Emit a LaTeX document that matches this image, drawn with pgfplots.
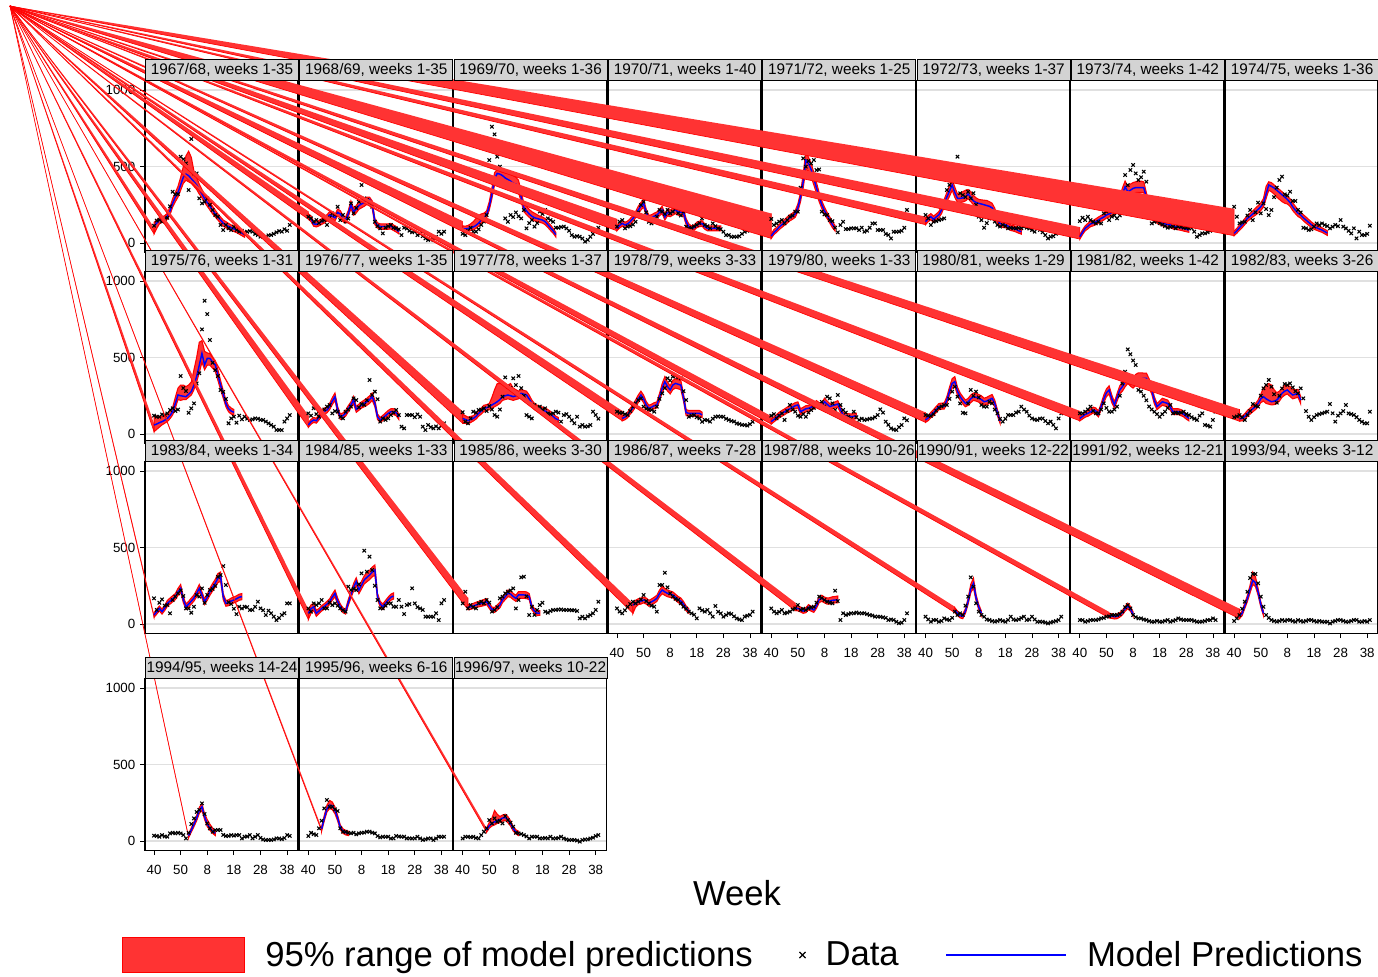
\documentclass[border=0pt]{standalone}
\usepackage{fontspec}
\setmainfont{Liberation Sans}
\usepackage{pgfplots}
\pgfplotsset{compat=1.18}
\definecolor{bandred}{RGB}{255,51,51}
\definecolor{titlegray}{RGB}{211,211,211}
\definecolor{gridgray}{RGB}{224,224,224}
\pgfplotsset{
 panel/.style={
  scale only axis, width=114.75pt, height=128.55pt, anchor=north west,
  xmin=-3.4, xmax=54.1, ymin=-60, ymax=1060,
  ytick={0,500,1000}, yticklabels={}, ymajorgrids,
  major grid style={draw=gridgray, line width=0.8pt},
  xtick=\empty,
  axis line style={line width=1pt},
  tick align=outside, major tick length=3.75pt,
  tick style={black, line width=0.6pt},
  ytick style={draw=none},
  xtick pos=left, ytick pos=left,
  clip=false,
  tick label style={font=\fontsize{10}{12}\selectfont},
  xticklabel style={yshift=-4pt},
  /pgf/number format/assume math mode=true,
 },
 ylab/.style={yticklabels={0,500,1000}, ytick style={draw=black}},
 xlab/.style={xtick={0,10,20,30,40,50}, xticklabels={40,50,8,18,28,38}},
}
\tikzset{titlebox/.style={anchor=south west, fill=titlegray, draw=black, line width=0.8pt, minimum width=114.75pt, minimum height=15.5pt, inner sep=0pt, font=\fontsize{11.5}{13}\selectfont}}
\makeatletter
\newcommand\alltitles{}
\newcommand\addtitle[3]{\g@addto@macro\alltitles{\node[titlebox] at ({#1*0.75pt},{-#2*0.75pt}) {#3};}}
\makeatother
% #1 left px, #2 top px, #3 title, #4 options, #5 data, #6 model rows (week m lo hi), #7 artefact wedge
\newcommand\Panel[7]{%
 \addtitle{#1}{#2}{#3}%
 \begin{axis}[panel, #4, at={({#1*0.75pt},{-#2*0.75pt})}]
 \addplot[fill=bandred, draw=red, line width=0.5pt] coordinates {#7};
 \addplot[draw=none, stack plots=y] table[row sep=\\, header=false, x index=0, y index=2] {#6};
 \addplot[fill=bandred, draw=red, line width=0.8pt, stack plots=y] table[row sep=\\, header=false, x index=0, y expr=\thisrowno{3}-\thisrowno{2}] {#6} \closedcycle;
 \addplot[only marks, mark=x, mark size=1.8pt, black, line width=0.8pt] table[row sep=\\, header=false, x expr=\coordindex, y index=0] {#5};
 \addplot[blue, line width=1.1pt] table[row sep=\\, header=false, x index=0, y index=1] {#6};
 \end{axis}}
\begin{document}
\begin{tikzpicture}
\useasboundingbox (0pt,0pt) rectangle (1033.5pt,-732.75pt);
% ---------------- row 1
\Panel{145}{80.8}{1967/68, weeks 1-35}{ylab}
{113\\146\\152\\140\\157\\165\\240\\335\\318\\320\\564\\547\\520\\346\\680\\455\\455\\292\\259\\270\\292\\250\\216\\183\\172\\118\\85\\118\\96\\85\\107\\85\\74\\80\\70\\74\\78\\74\\60\\52\\41\\45\\41\\50\\52\\60\\70\\78\\74\\90\\80\\118\\}
{0 110 60 135\\1 130 95 150\\2 150 125 165\\3 152 135 172\\4 158 140 178\\5 175 155 195\\6 210 185 235\\7 260 235 290\\8 300 270 330\\9 330 300 370\\10 380 345 430\\11 430 390 500\\12 450 410 570\\13 440 400 600\\14 420 390 560\\15 400 370 470\\16 380 350 430\\17 350 320 385\\18 320 295 350\\19 290 265 320\\20 265 240 290\\21 240 215 265\\22 215 190 240\\23 190 170 215\\24 170 150 190\\25 150 130 170\\26 130 110 150\\27 118 100 140\\28 108 90 128\\29 100 82 118\\30 92 75 110\\31 85 68 100\\32 75 58 90\\33 65 48 80\\34 55 38 70\\}
{(-54.13,1548.8) (0,60) (0,100)}
\Panel{299.3}{80.8}{1968/69, weeks 1-35}{}
{172\\161\\140\\150\\130\\145\\150\\118\\165\\194\\185\\237\\150\\183\\140\\160\\259\\194\\230\\270\\379\\292\\281\\260\\237\\139\\110\\96\\63\\100\\110\\118\\100\\96\\90\\52\\100\\95\\80\\70\\75\\52\\60\\45\\30\\20\\25\\20\\40\\74\\60\\74\\}
{0 172 155 190\\1 160 140 178\\2 125 110 140\\3 122 105 138\\4 130 112 148\\5 140 122 158\\6 150 130 170\\7 165 145 185\\8 185 165 205\\9 175 155 195\\10 165 145 185\\11 200 178 222\\12 190 170 212\\13 160 140 180\\14 150 130 170\\15 190 170 212\\16 250 225 275\\17 205 182 228\\18 220 196 245\\19 245 220 270\\20 255 230 282\\21 265 240 292\\22 280 252 300\\23 285 255 300\\24 250 225 275\\25 140 120 160\\26 115 98 132\\27 108 90 125\\28 108 90 125\\29 108 90 125\\30 108 90 125\\31 110 92 128\\32 100 82 118\\33 90 72 108\\34 75 60 90\\}
{(-112.12,1548.8) (0,155) (0,207)}
\Panel{453.6}{80.8}{1969/70, weeks 1-36}{}
{60\\52\\80\\100\\74\\74\\90\\118\\140\\183\\542\\760\\710\\564\\499\\396\\161\\139\\183\\170\\200\\175\\161\\216\\96\\130\\150\\107\\130\\205\\190\\216\\161\\150\\139\\100\\100\\105\\107\\96\\80\\52\\41\\45\\41\\30\\9\\20\\41\\60\\80\\100\\}
{0 95 78 112\\1 92 75 110\\2 95 78 115\\3 100 82 125\\4 105 86 140\\5 115 95 160\\6 130 110 180\\7 150 128 190\\8 165 145 195\\9 185 165 210\\10 240 215 270\\11 320 290 360\\12 420 380 460\\13 455 415 480\\14 450 410 470\\15 440 400 462\\16 425 385 460\\17 415 375 455\\18 405 365 450\\19 390 352 440\\20 385 345 430\\21 370 330 410\\22 300 270 335\\23 230 205 260\\24 210 185 240\\25 190 168 220\\26 175 155 205\\27 165 145 195\\28 160 140 185\\29 155 135 175\\30 150 130 170\\31 140 120 160\\32 120 102 138\\33 100 82 118\\34 80 64 96\\35 55 40 70\\}
{(-170.11,1548.8) (0,78) (0,143)}
\Panel{607.9}{80.8}{1970/71, weeks 1-40}{}
{107\\139\\150\\96\\107\\110\\120\\139\\200\\248\\270\\200\\139\\128\\150\\172\\216\\205\\190\\216\\194\\205\\227\\194\\180\\205\\107\\96\\100\\110\\118\\130\\161\\118\\110\\96\\128\\110\\96\\90\\74\\52\\52\\41\\41\\41\\45\\60\\74\\80\\100\\110\\}
{0 96 80 112\\1 115 98 132\\2 128 110 146\\3 118 100 136\\4 125 107 143\\5 140 120 160\\6 160 140 180\\7 185 165 205\\8 215 192 240\\9 240 215 265\\10 259 235 285\\11 200 178 222\\12 161 142 180\\13 165 145 185\\14 175 155 195\\15 183 163 203\\16 200 178 222\\17 216 192 240\\18 170 150 190\\19 200 178 222\\20 194 172 216\\21 205 182 228\\22 216 192 240\\23 205 182 228\\24 200 178 222\\25 200 178 222\\26 140 120 160\\27 107 90 125\\28 96 80 112\\29 100 83 117\\30 118 100 136\\31 125 107 143\\32 128 110 146\\33 107 90 125\\34 96 80 112\\35 96 80 112\\36 96 80 112\\37 96 80 112\\38 96 80 112\\39 96 80 112\\}
{(-228.10,1548.8) (0,80) (0,158)}
\Panel{762.2}{80.8}{1971/72, weeks 1-25}{}
{157\\118\\128\\140\\150\\128\\150\\172\\180\\205\\205\\362\\553\\499\\536\\520\\542\\477\\481\\205\\187\\183\\150\\143\\100\\70\\118\\139\\91\\91\\96\\96\\96\\85\\100\\74\\80\\100\\128\\128\\85\\85\\85\\60\\52\\30\\74\\74\\74\\80\\100\\216\\}
{0 45 30 60\\1 70 55 88\\2 85 70 102\\3 105 88 122\\4 120 102 138\\5 135 116 154\\6 150 130 170\\7 165 145 185\\8 175 155 195\\9 190 168 212\\10 230 205 255\\11 300 270 330\\12 400 360 450\\13 540 480 600\\14 520 470 560\\15 480 430 520\\16 420 380 460\\17 360 325 395\\18 300 270 330\\19 250 225 275\\20 210 185 235\\21 180 160 200\\22 150 130 170\\23 120 100 140\\24 96 78 114\\}
{(-286.09,1548.8) (0,30) (0,193)}
\Panel{916.5}{80.8}{1972/73, weeks 1-37}{}
{183\\161\\118\\139\\143\\150\\155\\161\\346\\380\\401\\420\\564\\325\\314\\300\\335\\292\\325\\250\\172\\150\\100\\130\\160\\183\\140\\118\\107\\118\\110\\96\\100\\96\\96\\100\\96\\107\\100\\95\\85\\74\\107\\85\\70\\52\\30\\41\\45\\60\\70\\90\\}
{0 139 120 158\\1 160 140 180\\2 172 152 192\\3 155 135 175\\4 170 150 190\\5 185 165 205\\6 216 192 240\\7 260 235 285\\8 300 270 330\\9 340 305 375\\10 379 345 415\\11 330 298 365\\12 292 265 320\\13 292 265 325\\14 295 268 335\\15 303 275 345\\16 320 290 350\\17 300 270 335\\18 275 250 310\\19 265 240 295\\20 259 235 285\\21 255 230 282\\22 250 225 280\\23 245 220 278\\24 240 215 270\\25 230 205 260\\26 205 182 228\\27 150 130 170\\28 128 110 146\\29 120 102 138\\30 118 100 136\\31 110 92 128\\32 100 82 118\\33 96 78 114\\34 90 72 108\\35 80 64 96\\36 74 58 90\\}
{(-344.08,1548.8) (0,120) (0,172)}
\Panel{1070.8}{80.8}{1973/74, weeks 1-42}{}
{143\\165\\150\\172\\150\\139\\128\\139\\128\\194\\205\\150\\172\\180\\161\\180\\194\\444\\379\\477\\510\\455\\412\\430\\466\\401\\250\\128\\139\\143\\130\\120\\110\\100\\105\\107\\96\\107\\105\\100\\100\\96\\96\\74\\41\\52\\63\\63\\70\\80\\90\\100\\}
{0 41 26 56\\1 70 55 86\\2 96 80 112\\3 110 92 128\\4 125 107 143\\5 130 112 148\\6 139 120 158\\7 150 130 170\\8 161 142 180\\9 170 150 190\\10 183 163 203\\11 190 170 210\\12 200 178 222\\13 210 187 233\\14 240 215 265\\15 270 245 300\\16 320 290 360\\17 368 335 405\\18 335 305 370\\19 345 315 385\\20 357 325 395\\21 362 330 400\\22 362 330 405\\23 362 330 405\\24 362 330 400\\25 300 270 330\\26 237 212 262\\27 200 178 222\\28 170 150 190\\29 150 130 170\\30 140 120 160\\31 130 112 148\\32 125 107 143\\33 120 102 138\\34 118 100 136\\35 110 92 128\\36 107 90 125\\37 103 86 120\\38 100 83 117\\39 95 78 112\\40 90 74 106\\41 85 70 100\\}
{(-402.06,1548.8) (0,26) (0,104)}
\Panel{1225.1}{80.8}{1974/75, weeks 1-36}{}
{237\\172\\128\\135\\139\\180\\216\\150\\200\\264\\194\\259\\222\\183\\216\\300\\362\\412\\434\\318\\310\\335\\275\\275\\216\\200\\100\\96\\85\\90\\107\\128\\118\\128\\118\\110\\96\\107\\118\\110\\150\\107\\96\\80\\63\\96\\30\\74\\52\\52\\60\\113\\}
{0 63 48 78\\1 80 64 96\\2 100 83 117\\3 118 100 136\\4 140 120 160\\5 161 142 180\\6 175 155 195\\7 190 170 210\\8 205 182 228\\9 220 196 244\\10 237 212 262\\11 260 235 290\\12 320 290 370\\13 379 345 400\\14 370 335 395\\15 360 320 380\\16 345 300 365\\17 330 285 350\\18 315 270 335\\19 300 260 320\\20 285 255 305\\21 265 240 290\\22 237 212 262\\23 215 192 240\\24 195 173 218\\25 183 163 203\\26 165 145 185\\27 150 130 170\\28 135 116 154\\29 120 102 138\\30 107 90 125\\31 100 83 117\\32 92 76 108\\33 85 70 100\\34 75 60 90\\35 65 50 80\\}
{(-460.05,1548.8) (0,48) (0,224)}
% ---------------- row 2
\Panel{145}{271.8}{1975/76, weeks 1-31}{ylab}
{120\\113\\113\\128\\124\\135\\157\\168\\150\\160\\379\\300\\281\\139\\168\\200\\330\\397\\684\\871\\784\\614\\466\\418\\379\\288\\275\\229\\70\\102\\113\\74\\120\\96\\113\\100\\92\\96\\102\\100\\92\\92\\81\\70\\59\\48\\26\\26\\26\\81\\102\\124\\}
{0 59 15 120\\1 65 30 118\\2 74 45 115\\3 81 60 112\\4 90 70 118\\5 102 82 130\\6 120 100 150\\7 146 125 175\\8 200 170 240\\9 255 225 300\\10 250 220 320\\11 247 225 320\\12 244 225 310\\13 260 240 320\\14 277 255 340\\15 320 290 420\\16 375 340 500\\17 450 400 600\\18 527 470 610\\19 451 420 540\\20 494 450 530\\21 494 450 525\\22 470 430 500\\23 451 410 480\\24 385 350 420\\25 320 290 350\\26 260 235 285\\27 200 178 222\\28 165 145 185\\29 150 130 170\\30 142 122 160\\}
{(-54.13,2796.8) (0,15) (0,67)}
\Panel{299.3}{271.8}{1976/77, weeks 1-35}{}
{135\\120\\168\\130\\113\\146\\160\\179\\190\\135\\150\\146\\113\\102\\146\\160\\179\\233\\222\\174\\196\\190\\220\\353\\255\\277\\227\\81\\102\\92\\102\\124\\140\\157\\124\\48\\37\\124\\124\\124\\110\\128\\113\\48\\26\\59\\45\\37\\50\\37\\55\\70\\}
{0 59 44 74\\1 80 64 96\\2 92 76 108\\3 87 71 103\\4 110 92 128\\5 135 116 154\\6 150 130 170\\7 157 138 176\\8 180 160 200\\9 215 192 238\\10 244 220 268\\11 160 140 180\\12 113 95 131\\13 120 102 138\\14 135 116 154\\15 165 145 185\\16 190 170 210\\17 222 198 246\\18 161 142 180\\19 175 155 195\\20 190 170 210\\21 200 178 222\\22 211 188 234\\23 225 200 250\\24 244 220 268\\25 200 178 222\\26 113 95 131\\27 92 76 108\\28 105 88 122\\29 120 102 138\\30 135 116 154\\31 146 127 165\\32 146 127 165\\33 140 120 160\\34 113 95 131\\}
{(-112.12,2796.8) (0,44) (0,122)}
\Panel{453.6}{271.8}{1977/78, weeks 1-37}{}
{142\\81\\70\\102\\146\\140\\157\\160\\168\\150\\183\\160\\124\\113\\160\\244\\370\\309\\300\\364\\320\\379\\300\\250\\124\\113\\102\\190\\170\\179\\160\\168\\135\\130\\135\\146\\140\\81\\124\\130\\113\\90\\70\\113\\48\\59\\48\\50\\59\\146\\124\\100\\}
{0 102 70 130\\1 95 70 120\\2 87 65 110\\3 95 75 115\\4 102 85 120\\5 115 97 133\\6 135 116 154\\7 150 130 170\\8 168 148 188\\9 172 152 192\\10 179 159 199\\11 190 168 240\\12 200 178 290\\13 211 188 330\\14 225 200 330\\15 244 220 330\\16 250 225 325\\17 255 230 320\\18 250 225 330\\19 244 220 300\\20 250 225 290\\21 255 230 280\\22 266 240 290\\23 260 235 285\\24 255 230 280\\25 230 205 255\\26 200 178 222\\27 180 160 200\\28 168 148 188\\29 162 142 182\\30 157 138 176\\31 150 130 170\\32 140 120 160\\33 130 112 148\\34 115 97 133\\35 100 83 117\\36 92 76 108\\}
{(-170.11,2796.8) (0,70) (0,148)}
\Panel{607.9}{271.8}{1978/79, weeks 3-33}{}
{146\\139\\139\\130\\124\\150\\179\\200\\222\\233\\179\\165\\160\\157\\146\\179\\230\\266\\300\\364\\350\\375\\379\\370\\364\\280\\222\\113\\120\\124\\110\\102\\80\\92\\90\\81\\100\\113\\115\\113\\113\\100\\92\\85\\81\\70\\65\\60\\59\\55\\65\\80\\}
{2 102 86 118\\3 110 93 127\\4 124 106 142\\5 150 130 170\\6 170 150 190\\7 200 178 222\\8 230 205 255\\9 255 230 280\\10 230 205 255\\11 190 168 212\\12 168 148 188\\13 175 155 195\\14 185 165 205\\15 190 170 210\\16 240 215 265\\17 300 270 330\\18 342 310 375\\19 310 280 340\\20 288 262 315\\21 320 290 350\\22 331 300 362\\23 325 295 355\\24 320 290 350\\25 240 215 265\\26 140 120 160\\27 135 116 154\\28 135 116 154\\29 135 116 154\\30 135 116 154\\31 135 116 154\\32 125 107 143\\}
{(-228.10,2796.8) (2,86) (2,151)}
\Panel{762.2}{271.8}{1979/80, weeks 1-33}{}
{120\\130\\102\\120\\135\\92\\150\\190\\160\\146\\120\\113\\130\\113\\140\\157\\170\\180\\196\\210\\180\\244\\233\\200\\157\\255\\190\\157\\140\\113\\100\\146\\110\\92\\100\\92\\95\\100\\102\\110\\124\\161\\140\\81\\60\\37\\30\\26\\45\\59\\102\\90\\}
{0 81 65 97\\1 95 79 111\\2 110 93 127\\3 124 106 142\\4 135 116 154\\5 145 126 164\\6 157 138 176\\7 165 145 185\\8 175 155 195\\9 185 165 205\\10 190 170 210\\11 146 127 165\\12 155 135 175\\13 165 145 185\\14 168 148 188\\15 175 155 195\\16 185 165 205\\17 196 175 218\\18 185 165 205\\19 179 159 199\\20 211 188 234\\21 195 174 216\\22 179 159 199\\23 185 165 205\\24 190 170 210\\25 196 175 218\\26 160 140 180\\27 124 106 142\\28 118 100 136\\29 115 97 133\\30 113 95 131\\31 115 97 133\\32 118 100 136\\}
{(-286.09,2796.8) (0,65) (0,117)}
\Panel{916.5}{271.8}{1980/81, weeks 1-29}{}
{124\\120\\118\\130\\153\\170\\180\\190\\190\\230\\277\\309\\244\\200\\139\\135\\200\\288\\250\\277\\240\\190\\179\\179\\211\\200\\160\\135\\100\\81\\100\\124\\124\\124\\140\\146\\179\\160\\146\\120\\102\\95\\92\\100\\102\\85\\70\\81\\60\\37\\102\\135\\}
{0 92 76 108\\1 105 88 122\\2 124 106 142\\3 140 120 160\\4 160 140 180\\5 179 159 199\\6 182 162 202\\7 183 163 203\\8 220 196 244\\9 280 254 306\\10 330 300 362\\11 342 310 375\\12 280 254 306\\13 244 220 268\\14 220 196 244\\15 200 178 222\\16 210 187 233\\17 230 205 255\\18 244 220 268\\19 240 215 265\\20 233 208 258\\21 225 200 250\\22 211 188 234\\23 215 192 240\\24 225 200 250\\25 233 208 258\\26 200 178 222\\27 140 120 160\\28 85 70 100\\}
{(-344.08,2796.8) (0,76) (0,141)}
\Panel{1070.8}{271.8}{1981/82, weeks 1-42}{}
{135\\135\\146\\160\\179\\150\\135\\135\\160\\200\\170\\146\\146\\160\\179\\250\\330\\407\\553\\521\\480\\451\\288\\277\\250\\220\\180\\160\\146\\130\\113\\130\\146\\170\\190\\135\\140\\135\\140\\146\\130\\124\\110\\100\\92\\120\\135\\59\\55\\48\\92\\146\\}
{0 102 86 118\\1 115 98 132\\2 128 110 146\\3 135 116 154\\4 145 126 164\\5 157 138 176\\6 150 130 170\\7 131 112 150\\8 180 160 200\\9 230 205 255\\10 270 245 295\\11 288 262 315\\12 230 205 255\\13 190 170 210\\14 240 215 265\\15 288 262 315\\16 310 280 340\\17 340 308 372\\18 364 330 398\\19 345 313 378\\20 331 300 362\\21 350 318 390\\22 364 330 400\\23 364 330 400\\24 364 330 398\\25 364 330 398\\26 330 300 362\\27 288 262 315\\28 220 196 244\\29 179 159 199\\30 195 174 216\\31 211 188 234\\32 205 182 228\\33 200 178 222\\34 175 155 195\\35 146 127 165\\36 146 127 165\\37 146 127 165\\38 140 120 160\\39 130 112 148\\40 115 97 133\\41 102 86 118\\}
{(-402.06,2796.8) (0,86) (0,151)}
\Panel{1225.1}{271.8}{1982/83, weeks 3-26}{}
{110\\115\\124\\110\\92\\124\\150\\196\\185\\179\\250\\298\\320\\353\\309\\260\\205\\250\\298\\327\\320\\331\\305\\280\\266\\298\\233\\150\\113\\92\\110\\124\\130\\135\\140\\146\\196\\135\\81\\120\\135\\150\\190\\135\\130\\124\\110\\92\\80\\70\\70\\146\\}
{2 100 84 116\\3 102 86 118\\4 115 97 133\\5 135 116 154\\6 150 130 170\\7 165 145 185\\8 179 159 199\\9 200 178 222\\10 230 205 260\\11 244 215 300\\12 230 200 320\\13 220 195 330\\14 211 190 320\\15 215 192 290\\16 222 198 270\\17 240 215 280\\18 266 240 300\\19 280 254 320\\20 288 262 320\\21 270 245 310\\22 255 230 290\\23 260 235 290\\24 266 240 292\\25 222 198 246\\}
{(-460.05,2796.8) (2,84) (2,162)}
% ---------------- row 3
\Panel{145}{461.8}{1983/84, weeks 1-34}{ylab}
{168\\92\\139\\161\\120\\124\\70\\157\\179\\200\\220\\183\\102\\102\\74\\113\\190\\179\\233\\139\\190\\222\\229\\250\\309\\320\\379\\255\\142\\131\\100\\65\\113\\102\\113\\110\\92\\92\\113\\146\\102\\90\\59\\87\\70\\48\\26\\40\\59\\70\\135\\135\\}
{0 59 44 74\\1 80 64 96\\2 102 86 118\\3 81 65 97\\4 105 88 122\\5 135 116 154\\6 150 130 170\\7 165 145 185\\8 179 159 199\\9 210 187 233\\10 233 208 258\\11 160 140 180\\12 113 95 131\\13 130 112 148\\14 150 130 170\\15 170 150 190\\16 200 178 222\\17 233 208 258\\18 190 170 210\\19 146 127 165\\20 175 155 195\\21 211 188 234\\22 240 215 265\\23 266 240 292\\24 300 270 330\\25 309 280 340\\26 179 159 199\\27 135 116 154\\28 139 120 158\\29 150 130 170\\30 157 138 176\\31 165 145 185\\32 175 155 195\\33 179 159 199\\}
{(-54.13,4038.3) (0,44) (0,64)}
\Panel{299.3}{461.8}{1984/85, weeks 1-33}{}
{102\\81\\135\\124\\135\\157\\102\\102\\140\\124\\135\\120\\102\\90\\81\\244\\222\\230\\222\\260\\331\\479\\342\\440\\353\\250\\157\\102\\102\\120\\135\\135\\113\\113\\157\\113\\65\\124\\130\\233\\135\\110\\102\\92\\48\\48\\48\\48\\70\\26\\135\\157\\}
{0 70 30 90\\1 100 70 125\\2 113 90 135\\3 70 50 90\\4 85 68 102\\5 102 85 120\\6 115 97 133\\7 130 112 148\\8 146 127 165\\9 175 155 195\\10 200 178 222\\11 150 130 170\\12 113 95 131\\13 90 74 106\\14 81 65 97\\15 140 120 160\\16 190 170 210\\17 240 215 265\\18 277 252 302\\19 222 198 246\\20 255 230 280\\21 288 262 315\\22 305 276 335\\23 320 290 350\\24 340 308 372\\25 353 320 386\\26 179 159 199\\27 130 112 148\\28 113 95 131\\29 135 116 154\\30 157 138 176\\31 175 155 195\\32 183 163 203\\}
{(-112.12,4038.3) (0,30) (0,95)}
\Panel{453.6}{461.8}{1985/86, weeks 3-30}{}
{135\\211\\102\\124\\110\\102\\135\\146\\135\\157\\140\\81\\92\\110\\168\\179\\200\\211\\220\\233\\102\\157\\305\\309\\180\\59\\113\\59\\92\\124\\139\\81\\74\\85\\92\\92\\95\\95\\92\\92\\92\\90\\90\\85\\37\\48\\37\\50\\59\\70\\92\\146\\}
{2 110 94 126\\3 112 96 128\\4 118 101 135\\5 124 106 142\\6 130 112 148\\7 135 116 154\\8 140 120 160\\9 146 127 165\\10 120 102 138\\11 95 79 111\\12 92 76 108\\13 108 91 125\\14 124 106 142\\15 160 140 180\\16 179 159 199\\17 200 178 222\\18 196 175 218\\19 180 160 200\\20 168 148 188\\21 190 168 212\\22 190 168 212\\23 190 168 212\\24 188 166 210\\25 179 159 199\\26 110 93 127\\27 85 70 100\\28 70 55 85\\29 72 57 87\\}
{(-170.11,4038.3) (2,94) (2,172)}
\Panel{607.9}{461.8}{1986/87, weeks 7-28}{xlab}
{102\\81\\70\\90\\113\\130\\146\\135\\146\\160\\190\\150\\135\\120\\113\\81\\255\\255\\335\\240\\200\\179\\165\\157\\135\\113\\100\\81\\70\\60\\37\\102\\90\\81\\92\\70\\48\\118\\80\\70\\48\\59\\70\\65\\50\\37\\30\\26\\48\\55\\59\\81\\}
{6 124 70 140\\7 135 110 155\\8 146 127 165\\9 150 130 170\\10 157 138 176\\11 150 130 170\\12 135 116 154\\13 145 126 164\\14 155 135 175\\15 168 148 188\\16 200 178 222\\17 222 198 246\\18 210 187 233\\19 200 178 222\\20 195 174 216\\21 190 170 210\\22 175 155 195\\23 160 140 180\\24 150 130 170\\25 130 112 148\\26 102 86 118\\27 85 70 100\\}
{(-228.10,4038.3) (6,70) (6,135)}
\Panel{762.2}{461.8}{1987/88, weeks 10-26}{xlab}
{102\\81\\70\\80\\92\\70\\75\\81\\95\\102\\124\\92\\100\\92\\102\\110\\113\\140\\179\\170\\157\\146\\140\\135\\218\\150\\26\\70\\59\\65\\70\\70\\75\\70\\70\\70\\65\\59\\55\\48\\48\\48\\44\\40\\26\\30\\26\\15\\5\\9\\26\\70\\}
{9 105 88 122\\10 102 86 118\\11 95 79 111\\12 85 70 100\\13 90 74 106\\14 110 93 127\\15 100 84 116\\16 92 76 108\\17 120 102 138\\18 160 140 180\\19 168 148 188\\20 157 138 176\\21 150 130 170\\22 150 130 172\\23 155 135 178\\24 157 138 180\\25 157 138 183\\}
{(-286.09,4038.3) (9,88) (9,140)}
\Panel{916.5}{461.8}{1990/91, weeks 12-22}{xlab}
{48\\30\\15\\26\\26\\15\\20\\37\\30\\26\\40\\81\\59\\70\\60\\120\\179\\305\\244\\135\\81\\60\\48\\30\\26\\20\\15\\20\\26\\20\\15\\26\\48\\30\\26\\30\\40\\48\\26\\30\\48\\30\\15\\15\\15\\10\\4\\10\\15\\20\\26\\48\\}
{11 90 74 106\\12 70 55 85\\13 55 40 70\\14 50 35 65\\15 85 70 100\\16 150 130 170\\17 230 205 260\\18 266 235 300\\19 170 150 190\\20 110 93 127\\21 70 55 85\\}
{(-344.08,4038.3) (11,74) (11,113)}
\Panel{1070.8}{461.8}{1991/92, weeks 12-21}{xlab}
{26\\26\\15\\20\\26\\26\\26\\30\\37\\40\\48\\50\\59\\59\\59\\65\\81\\110\\124\\102\\59\\45\\37\\37\\30\\26\\20\\15\\15\\20\\15\\15\\20\\26\\15\\20\\26\\37\\30\\26\\26\\26\\26\\20\\15\\15\\15\\20\\26\\26\\37\\26\\}
{11 55 40 70\\12 52 37 67\\13 48 33 63\\14 50 35 65\\15 60 45 75\\16 75 60 90\\17 100 84 116\\18 118 100 136\\19 100 84 116\\20 65 50 80\\}
{(-402.06,4038.3) (11,40) (11,79)}
\Panel{1225.1}{461.8}{1993/94, weeks 3-12}{xlab}
{20\\37\\59\\100\\146\\211\\300\\327\\327\\266\\179\\113\\59\\40\\26\\20\\15\\20\\26\\20\\26\\26\\20\\15\\26\\20\\15\\20\\26\\26\\20\\15\\20\\15\\15\\15\\4\\15\\20\\26\\26\\20\\15\\15\\20\\26\\26\\15\\15\\20\\15\\26\\}
{2 50 35 65\\3 70 55 85\\4 120 102 138\\5 168 148 188\\6 230 205 255\\7 285 258 340\\8 270 245 310\\9 210 187 233\\10 130 112 148\\11 70 55 85\\}
{(-460.05,4038.3) (2,35) (2,100)}
% ---------------- row 4
\Panel{145}{678.8}{1994/95, weeks 14-24}{ylab,xlab}
{35\\33\\28\\39\\30\\28\\50\\54\\50\\54\\50\\39\\17\\54\\111\\148\\190\\203\\246\\176\\115\\83\\61\\72\\72\\72\\40\\33\\33\\39\\35\\39\\39\\17\\28\\30\\39\\17\\28\\39\\20\\10\\7\\7\\7\\10\\17\\17\\12\\20\\39\\33\\}
{13 35 22 48\\14 72 58 86\\15 110 94 126\\16 150 132 168\\17 200 180 220\\18 224 200 245\\19 159 140 178\\20 110 94 140\\21 85 70 110\\22 65 50 85\\23 50 36 64\\}
{(-54.13,5456.2) (13,22) (13,35)}
\Panel{299.3}{678.8}{1995/96, weeks 6-16}{xlab}
{33\\54\\45\\39\\83\\133\\213\\268\\224\\224\\207\\196\\83\\61\\61\\54\\50\\54\\44\\50\\54\\55\\61\\61\\55\\50\\33\\24\\28\\28\\28\\17\\17\\33\\30\\28\\28\\17\\17\\17\\17\\28\\17\\7\\11\\17\\17\\7\\17\\28\\28\\28\\}
{5 80 65 95\\6 150 132 168\\7 210 190 235\\8 235 212 265\\9 230 205 255\\10 200 178 222\\11 150 132 168\\12 90 75 105\\13 65 50 80\\14 55 40 70\\15 50 36 64\\}
{(-112.12,5456.2) (5,65) (5,85)}
\Panel{453.6}{678.8}{1996/97, weeks 10-22}{xlab}
{17\\28\\28\\24\\28\\20\\17\\39\\61\\83\\137\\115\\148\\126\\133\\115\\163\\137\\120\\94\\54\\50\\46\\39\\30\\17\\28\\28\\28\\17\\17\\20\\17\\28\\17\\17\\20\\28\\17\\11\\7\\7\\7\\3\\-4\\7\\10\\11\\17\\22\\33\\39\\}
{9 72 58 86\\10 100 84 120\\11 115 98 150\\12 125 105 200\\13 135 115 175\\14 140 120 160\\15 150 130 170\\16 155 135 175\\17 140 120 160\\18 115 98 132\\19 80 65 95\\20 60 46 74\\21 50 36 64\\}
{(-170.11,5456.2) (9,58) (9,84)}
% ---------------- panel titles on top
\alltitles
% ---------------- x label and legend
\node[font=\fontsize{26}{31}\selectfont] at (552.75pt,-669.75pt) {Week};
\begin{axis}[at={(0pt,-732.75pt)}, anchor=south west, scale only axis, width=1033.5pt, height=732.75pt, hide axis, xmin=0, xmax=1, ymin=0, ymax=1,
 legend columns=3,
 legend style={at={(0.5385,0.0225)}, anchor=center, draw=none, fill=none, font=\fontsize{26}{31}\selectfont, nodes={inner sep=0pt}, /tikz/every odd column/.append style={column sep=15pt}, /tikz/every even column/.append style={column sep=35pt}}]
\addplot[draw=none, forget plot] coordinates {(0,0)};
\addlegendimage{legend image code/.code={\draw[fill=bandred, draw=red, line width=0.8pt] (0pt,-13pt) rectangle (92pt,13pt);}}
\addlegendentry{95\% range of model predictions}
\addlegendimage{legend image code/.code={\pgfsetlinewidth{1pt}\pgfsetplotmarksize{3.2pt}\pgfuseplotmark{x}}}
\addlegendentry{Data}
\addlegendimage{legend image code/.code={\draw[blue, line width=1.2pt] (0pt,0pt) -- (90pt,0pt);}}
\addlegendentry{Model Predictions}
\end{axis}
\end{tikzpicture}
\end{document}
